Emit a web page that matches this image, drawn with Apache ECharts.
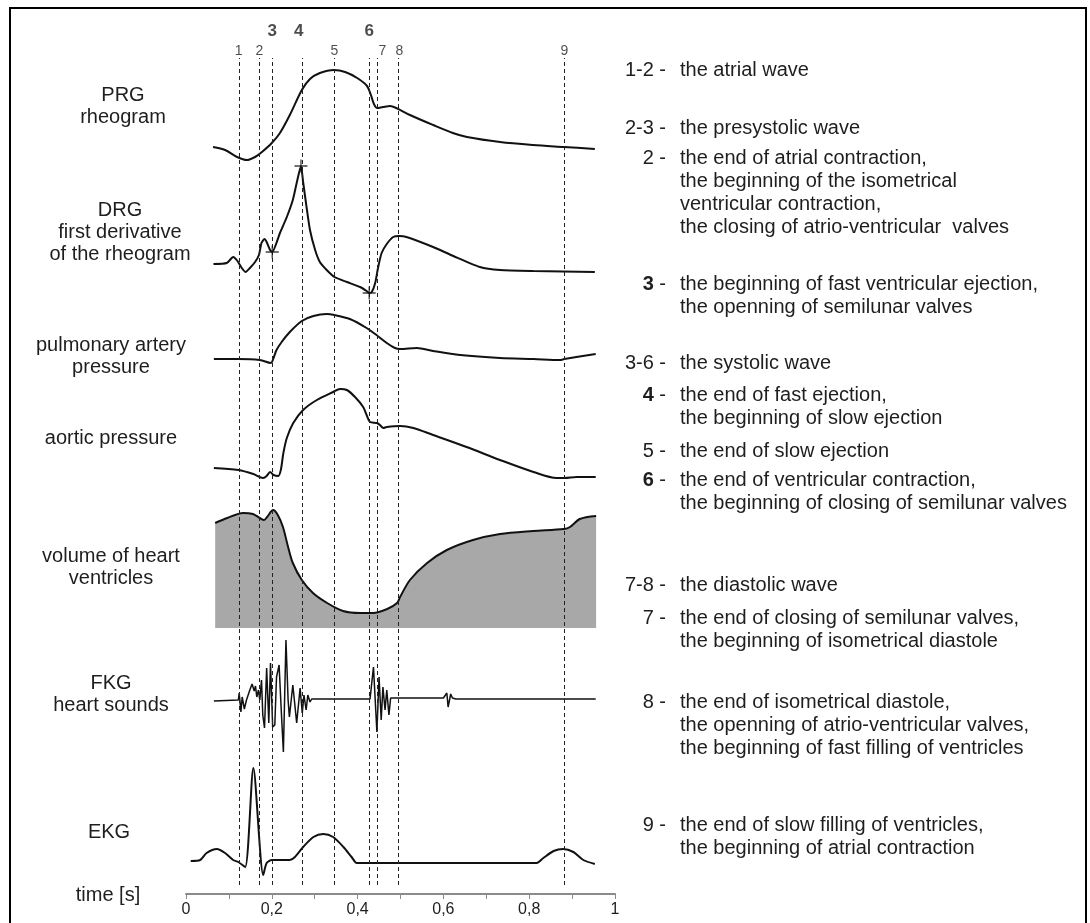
<!DOCTYPE html>
<html>
<head>
<meta charset="utf-8">
<script src="https://cdn.jsdelivr.net/npm/echarts@6/dist/echarts.min.js"></script>
<style>html,body{margin:0;padding:0;background:#fff}#c{width:1090px;height:923px}</style>
</head>
<body>
<div id="c"></div>
<script>
// ---- data (time in s, amplitude in arbitrary units) ----
const lineTimes  = [0.123, 0.171, 0.201, 0.270, 0.346, 0.427, 0.446, 0.495, 0.882];
const lineLabels = ['1', '2', '3', '4', '5', '6', '7', '8', '9'];
const lineBold   = [false, false, true, true, false, true, false, false, false];

const tickLabels = ['0', '0,2', '0,4', '0,6', '0,8', '1'];

const prgData = [[0.063,18],[0.091,15],[0.119,8],[0.142,5],[0.161,8],[0.177,13],[0.200,22],[0.219,32],[0.242,50],[0.270,75],[0.289,86],[0.312,92],[0.345,95],[0.371,93],[0.399,87],[0.422,79],[0.431,70],[0.438,61],[0.445,57],[0.459,58],[0.476,59],[0.490,57],[0.522,50],[0.576,40],[0.622,32],[0.655,28],[0.732,23],[0.809,20],[0.881,18],[0.953,16]];

const drgData = [[0.064,36],[0.095,37],[0.110,43],[0.120,39],[0.130,32],[0.139,28],[0.149,32],[0.161,38],[0.170,45],[0.176,57],[0.183,61],[0.188,58],[0.196,50],[0.201,48],[0.219,67],[0.235,83],[0.249,100],[0.258,117],[0.268,134],[0.273,118],[0.281,93],[0.289,70],[0.301,50],[0.312,38],[0.328,30],[0.346,23],[0.375,18],[0.406,13],[0.421,9],[0.427,7],[0.433,8],[0.441,17],[0.448,33],[0.456,47],[0.468,56],[0.483,63],[0.497,64],[0.514,63],[0.576,53],[0.623,44],[0.685,33],[0.732,30],[0.810,29],[0.953,28]];
const drgMarks = [[0.201,48],[0.268,134],[0.427,7]];

const papData = [[0.065,11],[0.122,11],[0.172,10],[0.198,7],[0.204,12],[0.211,20],[0.223,28],[0.242,38],[0.270,49],[0.297,54],[0.328,56],[0.346,55],[0.382,51],[0.421,42],[0.444,35],[0.468,27],[0.487,22],[0.499,21],[0.538,22],[0.576,19],[0.639,15],[0.732,12],[0.810,11],[0.872,10],[0.882,11],[0.955,16]];

const aopData = [[0.065,17],[0.122,15],[0.157,11],[0.180,7],[0.188,9],[0.196,13],[0.204,10],[0.215,9],[0.221,15],[0.227,32],[0.235,47],[0.250,62],[0.273,75],[0.305,85],[0.343,93],[0.359,96],[0.375,95],[0.394,88],[0.413,78],[0.421,70],[0.429,63],[0.445,62],[0.452,60],[0.460,57],[0.468,58],[0.499,59],[0.530,57],[0.576,50],[0.654,38],[0.732,25],[0.810,13],[0.864,7],[0.882,7],[0.911,8],[0.955,8]];

const volData = [[0.068,105],[0.096,110],[0.133,115],[0.156,114],[0.172,110],[0.182,108],[0.189,111],[0.203,118],[0.214,113],[0.226,101],[0.238,81],[0.249,65],[0.270,48],[0.296,35],[0.329,25],[0.366,17],[0.406,15],[0.436,15],[0.469,19],[0.492,25],[0.499,31],[0.522,48],[0.562,65],[0.608,78],[0.669,88],[0.732,94],[0.809,97],[0.881,99],[0.895,101],[0.918,109],[0.956,112]];

const fkgData = [[0.065,-1],[0.122,0],[0.124,7],[0.128,-12],[0.131,3],[0.136,-9],[0.141,0],[0.148,9],[0.154,16],[0.159,9],[0.162,14],[0.165,3],[0.169,10],[0.172,0],[0.176,20],[0.179,-15],[0.183,-28],[0.188,32],[0.193,-23],[0.197,37],[0.202,-27],[0.207,-25],[0.211,23],[0.217,35],[0.222,-10],[0.227,-52],[0.233,60],[0.238,0],[0.241,-17],[0.249,15],[0.258,-23],[0.266,12],[0.271,-13],[0.275,5],[0.280,-10],[0.284,5],[0.289,-2],[0.293,1],[0.429,1],[0.437,33],[0.445,-32],[0.450,23],[0.455,-20],[0.459,13],[0.464,-10],[0.468,10],[0.473,-15],[0.477,2],[0.600,2],[0.608,7],[0.611,-7],[0.617,6],[0.621,2],[0.625,3],[0.629,1],[0.955,1]];

const ekgData = [[0.011,1],[0.033,2],[0.048,9],[0.072,13],[0.091,9],[0.110,2],[0.122,0],[0.138,-5],[0.157,94],[0.180,-13],[0.188,-1],[0.200,2],[0.242,2],[0.254,5],[0.273,15],[0.297,25],[0.320,28],[0.343,25],[0.367,15],[0.386,5],[0.398,-1],[0.429,-1],[0.817,-1],[0.833,4],[0.857,11],[0.879,13],[0.903,10],[0.926,2],[0.953,-2]];

const traceNames = ['PRG\nrheogram', 'DRG\nfirst derivative\nof the rheogram', 'pulmonary artery\npressure', 'aortic pressure', 'volume of heart\nventricles', 'FKG\nheart sounds', 'EKG'];
const axisName = 'time [s]';

const legendKeys  = ['1-2', '2-3', '2', '3', '3-6', '4', '5', '6', '7-8', '7', '8', '9'];
const legendBold  = [false, false, false, true, false, true, false, true, false, false, false, false];
const legendTexts = [
  'the atrial wave',
  'the presystolic wave',
  'the end of atrial contraction,\nthe beginning of the isometrical\nventricular contraction,\nthe closing of atrio-ventricular  valves',
  'the beginning of fast ventricular ejection,\nthe openning of semilunar valves',
  'the systolic wave',
  'the end of fast ejection,\nthe beginning of slow ejection',
  'the end of slow ejection',
  'the end of ventricular contraction,\nthe beginning of closing of semilunar valves',
  'the diastolic wave',
  'the end of closing of semilunar valves,\nthe beginning of isometrical diastole',
  'the end of isometrical diastole,\nthe openning of atrio-ventricular valves,\nthe beginning of fast filling of ventricles',
  'the end of slow filling of ventricles,\nthe beginning of atrial contraction'
];

// ---- layout ----
const FONT = '"Liberation Sans", Arial, Helvetica, sans-serif';
const TXT = '#1e1e1e';
const PLOT_LEFT = 186, PLOT_W = 429;
// grid boxes for each trace: [top, height, yMin, yMax]
const boxes = [
  [60, 105, 0, 105],    // PRG
  [155, 145, 0, 145],   // DRG
  [305, 65, 0, 65],     // PAP
  [375, 110, 0, 110],   // AOP
  [500, 128, 0, 128],   // VOL
  [630, 130, -60, 70],  // FKG
  [760, 125, -23, 102]  // EKG
];
const traceLabelPos = [[123, 95], [120, 210], [111, 345], [111, 438], [111, 556], [111, 683], [109, 832]];
const legendY = [70, 128, 158, 284, 363, 395, 451, 480, 585, 618, 702, 825];

const grids = [], xAxes = [], yAxes = [];
boxes.forEach((b, i) => {
  grids.push({left: PLOT_LEFT, width: PLOT_W, top: b[0], height: b[1]});
  xAxes.push({type: 'value', gridIndex: i, min: 0, max: 1, show: false});
  yAxes.push({type: 'value', gridIndex: i, min: b[2], max: b[3], show: false});
});
// overlay grid for the dashed marker lines
const OV = boxes.length;
const OV_TOP = 20, OV_H = 865;
grids.push({left: PLOT_LEFT, width: PLOT_W, top: OV_TOP, height: OV_H});
xAxes.push({type: 'value', gridIndex: OV, min: 0, max: 1, show: false});
yAxes.push({type: 'value', gridIndex: OV, min: 0, max: OV_H, show: false});
// time axis grid
const AX = OV + 1;
grids.push({left: PLOT_LEFT, width: PLOT_W, top: 880, height: 14});
xAxes.push({
  type: 'value', gridIndex: AX, min: 0, max: 1, interval: 0.1, position: 'bottom',
  axisLine: {show: true, lineStyle: {color: '#8a8a8a', width: 2}},
  axisTick: {show: true, length: 5, inside: false, lineStyle: {color: '#8a8a8a', width: 1}},
  splitLine: {show: false},
  axisLabel: {
    show: true, margin: 8, fontFamily: FONT, fontSize: 16, color: TXT,
    formatter: v => { const k = Math.round(v * 10); return k % 2 === 0 ? tickLabels[k / 2] : ''; }
  }
});
yAxes.push({type: 'value', gridIndex: AX, min: 0, max: 1, show: false});

const lineBase = (idx, data, smooth, width) => ({
  type: 'line', xAxisIndex: idx, yAxisIndex: idx, data: data, smooth: smooth,
  symbol: 'none', silent: true, z: 4, animation: false,
  lineStyle: {color: '#111', width: width}
});

const series = [];
series.push(lineBase(0, prgData, 0.3, 2));
series.push(lineBase(1, drgData, 0.2, 2));
series.push({
  type: 'scatter', xAxisIndex: 1, yAxisIndex: 1, data: drgMarks, z: 5, animation: false,
  symbol: 'path://M0,5.4H12V6.6H0Z M5.4,0H6.6V12H5.4Z', symbolSize: 13,
  itemStyle: {color: '#111'}
});
series.push(lineBase(2, papData, 0.3, 2));
series.push(lineBase(3, aopData, 0.3, 2));
const vol = lineBase(4, volData, 0.3, 2);
vol.areaStyle = {color: '#a8a8a8', opacity: 1};
vol.z = 3;
series.push(vol);
series.push(lineBase(5, fkgData, false, 1.5));
series.push(lineBase(6, ekgData, 0.25, 2));

// dashed event lines + their labels
const LINE_TOP = 827; // overlay units (y = 58px)
const labelDx = [0, 0, 0, -3, 0, 0, 5, 1, 0];
series.push({
  type: 'scatter', xAxisIndex: OV, yAxisIndex: OV, z: 1, animation: false, clip: false,
  symbolSize: 0,
  data: lineTimes.map((t, i) => ({
    value: [t, lineBold[i] ? OV_H - 11 : OV_H - 31],
    name: lineLabels[i],
    label: {
      show: true, position: 'inside', offset: [labelDx[i], 0],
      formatter: '{b}', fontFamily: FONT, color: TXT,
      fontSize: lineBold[i] ? 17 : 14, fontWeight: lineBold[i] ? 'bold' : 'normal'
    }
  })),
  markLine: {
    silent: true, symbol: ['none', 'none'], animation: false,
    label: {show: false},
    lineStyle: {color: '#222', width: 1, type: [4, 3]},
    data: lineTimes.map(t => [{coord: [t, 0]}, {coord: [t, LINE_TOP]}])
  }
});

// ---- text (graphic) ----
const graphic = [];
graphic.push({type: 'rect', shape: {x: 10, y: 8, width: 1076, height: 940}, style: {fill: 'none', stroke: '#000', lineWidth: 2}, z: 100});
traceNames.forEach((s, i) => {
  graphic.push({type: 'text', x: traceLabelPos[i][0], y: traceLabelPos[i][1] - 11,
    style: {text: s, font: '20px ' + FONT, fill: TXT, align: 'center', verticalAlign: 'top', lineHeight: 22}});
});
graphic.push({type: 'text', x: 108, y: 895,
  style: {text: axisName, font: '20px ' + FONT, fill: TXT, align: 'center', verticalAlign: 'middle'}});
legendKeys.forEach((k, i) => {
  const y0 = legendY[i] - 11.5;
  graphic.push({type: 'text', x: 666, y: y0,
    style: {
      text: legendBold[i] ? '{b|' + k + '} -' : k + ' -',
      font: '20px ' + FONT, fill: TXT, align: 'right', verticalAlign: 'top', lineHeight: 23,
      rich: {b: {fontWeight: 'bold', fontSize: 20, fontFamily: FONT, fill: TXT}}
    }});
  graphic.push({type: 'text', x: 680, y: y0,
    style: {text: legendTexts[i], font: '20px ' + FONT, fill: TXT, align: 'left', verticalAlign: 'top', lineHeight: 23}});
});

const chart = echarts.init(document.getElementById('c'), null, {renderer: 'canvas', width: 1090, height: 923});
chart.setOption({
  backgroundColor: '#fff',
  animation: false,
  grid: grids, xAxis: xAxes, yAxis: yAxes,
  series: series,
  graphic: graphic
});
</script>
</body>
</html>
